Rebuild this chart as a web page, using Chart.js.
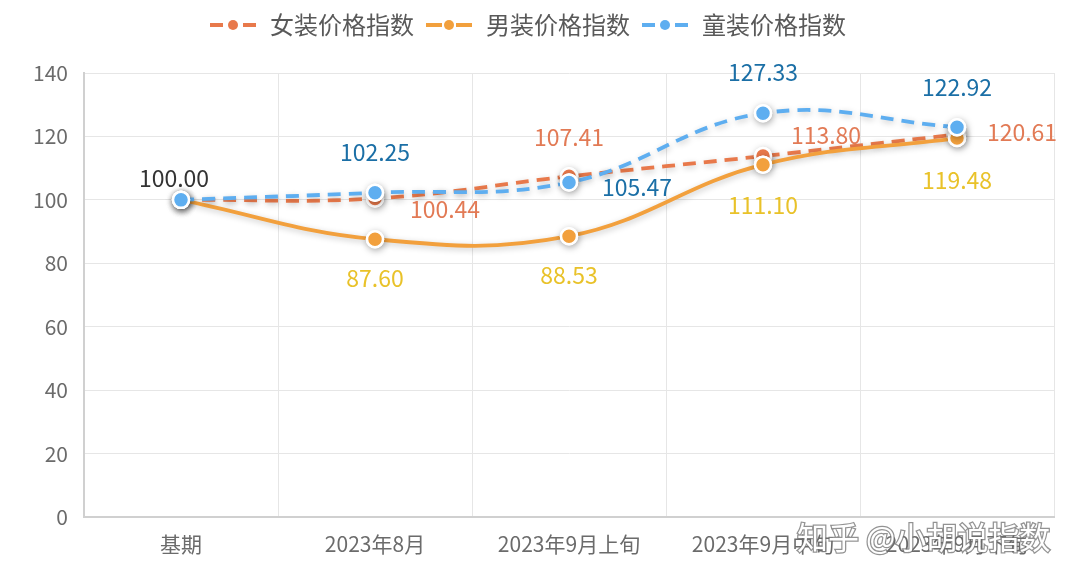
<!DOCTYPE html>
<html><head><meta charset="utf-8">
<script src="https://cdn.jsdelivr.net/npm/chart.js@4/dist/chart.umd.min.js"></script>
<style>html,body{margin:0;padding:0;background:#fff;}#wrap{width:1080px;height:581px;}</style>
</head><body><div id="wrap"><canvas id="c" width="1080" height="581"></canvas></div>
<script>
const categories = ['基期','2023年8月','2023年9月上旬','2023年9月中旬','2023年9月下旬'];
const seriesNames = ['女装价格指数','男装价格指数','童装价格指数'];
const womenValues = [100.00, 100.44, 107.41, 113.80, 120.61];
const menValues = [100.00, 87.60, 88.53, 111.10, 119.48];
const kidsValues = [100.00, 102.25, 105.47, 127.33, 122.92];
const yTicks = [0,20,40,60,80,100,120,140];

const FONT = '"Noto Sans CJK SC","Noto Sans",sans-serif';

function legendIcon(color, dashed){
  const c = document.createElement('canvas');
  c.width = 50; c.height = 16;
  const x = c.getContext('2d');
  x.strokeStyle = color; x.lineWidth = 4;
  if (dashed){
    x.beginPath(); x.moveTo(2,8); x.lineTo(15,8); x.moveTo(35,8); x.lineTo(48,8); x.stroke();
  } else {
    x.beginPath(); x.moveTo(2,8); x.lineTo(18,8); x.moveTo(32,8); x.lineTo(48,8); x.stroke();
  }
  x.fillStyle = color; x.beginPath(); x.arc(25,8,5,0,Math.PI*2); x.fill();
  return c;
}

// point shadow: draw a soft shadow disc under each point, then the point itself without shadow
const PointEl = Chart.registry.getElement('point');
const origPointDraw = PointEl.prototype.draw;
PointEl.prototype.draw = function(ctx, area){
  const o = this.options;
  if (o && o.radius > 0) {
    ctx.save();
    ctx.shadowColor = 'rgba(0,0,0,0.35)'; ctx.shadowBlur = 7; ctx.shadowOffsetX = 1; ctx.shadowOffsetY = 2;
    ctx.fillStyle = '#ffffff';
    ctx.beginPath(); ctx.arc(this.x, this.y, o.radius + o.borderWidth/2, 0, Math.PI*2); ctx.fill();
    ctx.restore();
  }
  ctx.save();
  ctx.shadowColor = 'rgba(0,0,0,0)'; ctx.shadowBlur = 0;
  origPointDraw.call(this, ctx, area);
  ctx.restore();
};

const colWomen = '#E8794B', colMen = '#F2A03D', colKids = '#5EAEF0';
const labelCfg = [
  {color:'#E27A55', offs:[null,[70,11],[0,-39],[63,-21],[65,-2]]},
  {color:'#E9C229', offs:[null,[0,39],[0,39],[0,41],[0,42]]},
  {color:'#1B6FA6', offs:[[-7,-22],[0,-40],[68,5],[0,-41],[0,-40]], first:'#333333'}
];

const labelPlugin = {
  id:'vlabels',
  afterDatasetsDraw(chart){
    const ctx = chart.ctx;
    ctx.save();
    ctx.font = '23px ' + FONT;
    ctx.textAlign = 'center'; ctx.textBaseline = 'middle';
    chart.data.datasets.forEach((ds, di) => {
      const meta = chart.getDatasetMeta(di);
      const cfg = labelCfg[di];
      meta.data.forEach((pt, i) => {
        const o = cfg.offs[i];
        if (!o) return;
        ctx.fillStyle = (i===0 && cfg.first) ? cfg.first : cfg.color;
        ctx.fillText(ds.data[i].toFixed(2), pt.x + o[0], pt.y + o[1]);
      });
    });
    ctx.restore();
  },
  afterDraw(chart){
    const ctx = chart.ctx;
    ctx.save();
    ctx.font = '31px ' + FONT;
    ctx.textAlign = 'left'; ctx.textBaseline = 'middle';
    ctx.lineWidth = 2.5; ctx.strokeStyle = 'rgba(110,110,110,0.75)';
    ctx.fillStyle = '#ffffff';
    ctx.strokeText('知乎 @小胡说指数', 797, 537);
    ctx.fillText('知乎 @小胡说指数', 797, 537);
    ctx.restore();
  }
};

const shadowPlugin = {
  id:'shadow',
  beforeDatasetDraw(chart){
    const ctx = chart.ctx; ctx.save();
    ctx.shadowColor = 'rgba(0,0,0,0.22)'; ctx.shadowBlur = 6; ctx.shadowOffsetX = 1; ctx.shadowOffsetY = 2;
  },
  afterDatasetDraw(chart){ chart.ctx.restore(); }
};

function ds(label, data, color, dashed, order){
  return {
    label, data, order,
    borderColor: color, backgroundColor: color,
    borderWidth: 3.8, borderDash: dashed ? [13,8] : [],
    tension: 0.4, fill:false,
    pointRadius: 8, pointHoverRadius: 8,
    pointBackgroundColor: color, pointBorderColor: '#ffffff', pointBorderWidth: 2.5,
    pointStyle: 'circle'
  };
}

const datasets = [
  ds(seriesNames[0], womenValues, colWomen, true, 2),
  ds(seriesNames[1], menValues, colMen, false, 1),
  ds(seriesNames[2], kidsValues, colKids, true, 0)
];

new Chart(document.getElementById('c'), {
  type:'line',
  data:{ labels: categories, datasets },
  options:{
    responsive:false, animation:false,
    layout:{ padding:{ left:0, right:26, top:3, bottom:0 } },
    plugins:{
      tooltip:{enabled:false},
      legend:{
        position:'top', align:'center',
        labels:{
          usePointStyle:true, pointStyleWidth:50, boxHeight:16,
          font:{ size:24, family:FONT }, color:'#595959', padding:10,
          generateLabels(chart){
            return chart.data.datasets.map((d,i)=>({
              text:d.label, datasetIndex:i, fillStyle:d.borderColor, strokeStyle:d.borderColor,
              lineWidth:0, pointStyle: legendIcon(d.borderColor, i!==1), hidden:false, fontColor:'#595959'
            }));
          }
        }
      }
    },
    scales:{
      x:{
        offset:true,
        grid:{ color:'#e6e6e6', lineWidth:1, offset:true, drawTicks:false },
        border:{ color:'#d0d0d0', width:2 },
        ticks:{ font:{ size:21, family:FONT }, color:'#6b6b6b', padding:14, maxRotation:0, autoSkip:false },
        afterFit(s){ s.height = 64; }
      },
      y:{
        min:0, max:140,
        afterBuildTicks(s){ s.ticks = yTicks.map(v=>({value:v})); },
        grid:{ color:'#e6e6e6', lineWidth:1, drawTicks:false },
        border:{ color:'#d0d0d0', width:2 },
        ticks:{ font:{ size:21, family:FONT }, color:'#6b6b6b', padding:16 },
        afterFit(s){ s.width = 84; }
      }
    }
  },
  plugins:[shadowPlugin, labelPlugin, {
    id:'legendGap',
    afterInit(chart){
      const fit = chart.legend.fit;
      chart.legend.fit = function(){ fit.call(this); this.height = 73 - 3; };
    }
  }]
});
</script></body></html>
